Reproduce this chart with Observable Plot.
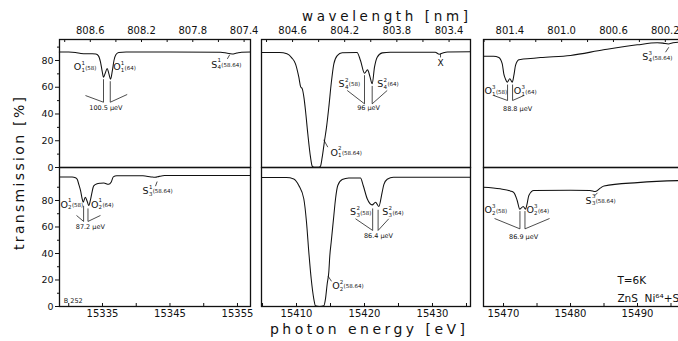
<!DOCTYPE html>
<html><head><meta charset="utf-8">
<script src="https://cdn.jsdelivr.net/npm/d3@7"></script>
<script src="https://cdn.jsdelivr.net/npm/@observablehq/plot@0.6"></script>
<style>
html,body{margin:0;padding:0;background:#fff;overflow:hidden;}
#chart{position:relative;width:678px;height:341px;overflow:hidden;font-family:"DejaVu Sans",sans-serif;color:#111;}
#chart svg{position:absolute;max-width:none;}
</style></head><body><div id="chart"></div>
<script>
// photon energy in units of 0.1 meV (label "15335" = 1.5335 eV); E * wavelength(nm) = HC
const HC = 12398420;

// ---- tick labels ----
const leftEnergyTicks = [15335, 15345, 15355];
const midEnergyTicks = [15410, 15420, 15430];
const rightEnergyTicks = [15470, 15480, 15490];
const leftWaveTicks = [808.6, 808.2, 807.8, 807.4];
const midWaveTicks = [804.6, 804.2, 803.8, 803.4];
const rightWaveTicks = [801.4, 801.0, 800.6, 800.2];
const transTicks = [0, 20, 40, 60, 80];
const transMinor = [10, 30, 50, 70, 90];

// ---- spectra [energy, transmission %] ----
const topLeft = [[15328.6,86.3],[15330.0,86.3],[15331.0,86.0],[15331.8,85.3],[15332.5,85.0],[15333.5,85.0],[15334.0,84.8],[15334.4,83.5],[15334.7,79],[15334.95,72],[15335.15,67.5],[15335.4,70.5],[15335.7,74],[15335.95,70],[15336.2,66],[15336.45,72],[15336.7,80],[15337.0,84.5],[15337.4,86],[15338.5,86.3],[15345,86.3],[15352.5,86.2],[15353.5,85.4],[15354.2,84.9],[15354.9,85.6],[15355.6,86.2],[15356.93,86.3]];
const bottomLeft = [[15328.63,97.8],[15330.5,97.8],[15331.0,97.2],[15331.25,96],[15331.5,92],[15331.75,87.5],[15332.0,81],[15332.15,78.7],[15332.45,82.5],[15332.75,79],[15332.97,76.2],[15333.2,80],[15333.4,85],[15333.7,91],[15334.2,92.6],[15334.7,93],[15335.2,93.2],[15335.9,92.2],[15336.3,94],[15336.6,97.8],[15337.1,98.6],[15341.0,98.6],[15342.2,97.8],[15342.8,97.5],[15343.4,98.2],[15344.2,98.8],[15356.93,98.8]];
const topMid = [[15404.85,86],[15407.5,86],[15408.6,85.0],[15409.3,82],[15409.85,77.5],[15410.34,67.5],[15410.6,60.5],[15410.85,58.8],[15411.1,52],[15411.32,42.6],[15411.66,25.2],[15412.06,7.7],[15412.31,1],[15412.6,0.2],[15413.3,0.2],[15413.53,1.0],[15413.78,7.7],[15414.12,20],[15414.41,30],[15414.75,45],[15415.1,62.6],[15415.49,77.5],[15415.99,83.7],[15416.72,85.8],[15418.9,86],[15419.41,80],[15420.0,70.5],[15420.45,73],[15420.8,68],[15421.13,62.6],[15421.47,75],[15421.87,82.5],[15422.6,85.7],[15423.8,86.2],[15430.4,86.2],[15431.0,84.7],[15431.5,85.6],[15432.2,86.4],[15435.59,86.5]];
const bottomMid = [[15404.85,97.3],[15408.5,97.3],[15409.6,96.3],[15410.34,91.3],[15411.07,81.3],[15411.47,63.6],[15411.81,41],[15412.16,20.9],[15412.54,5.8],[15412.79,0.5],[15413.4,0],[15414.01,0.5],[15414.26,5.8],[15414.51,17],[15414.75,26],[15414.9,38.5],[15415.1,48.5],[15415.49,68.7],[15415.74,81.3],[15416.07,91.3],[15416.72,95.8],[15417.69,97],[15419.41,97],[15419.81,91.3],[15420.4,81.3],[15421.13,76.7],[15421.62,78.7],[15422.1,75.5],[15422.6,86.3],[15422.84,92],[15423.34,96],[15424.26,97.5],[15435.59,97.5]];
const topRight = [[15467.0,83.2],[15468.5,83.2],[15469.3,82.3],[15469.81,77.5],[15470.04,70],[15470.3,66],[15470.55,63.8],[15470.94,66.3],[15471.3,63.8],[15471.55,69],[15471.79,76.3],[15472.28,80.5],[15472.54,80.8],[15474.03,81.5],[15475.52,82.2],[15480.0,83.8],[15484.93,88],[15489.96,91.7],[15492.94,93.2],[15493.8,93.0],[15494.6,92.4],[15495.3,93.2],[15496.1,93.7],[15498.2,94.0]];
const bottomRight = [[15467.0,90],[15469.5,88.8],[15471.0,87.2],[15471.54,86],[15472.04,80],[15472.43,73.5],[15472.94,75.5],[15473.28,73.5],[15473.5,77],[15473.78,83.8],[15474.52,87.5],[15480.0,87.8],[15482.9,87.6],[15483.7,86.8],[15484.5,89.5],[15485.0,91],[15490.0,93.5],[15496.1,95],[15498.2,95.2]];

// ---- line assignments (letter, subscript, superscript, isotope) at [energy, transmission] ----
const labelsTL = [
  {E:15330.75, T:75, base:"O", sub:"1", sup:"1", iso:"(58)"},
  {E:15336.59, T:75, base:"O", sub:"1", sup:"1", iso:"(64)"},
  {E:15351.10, T:77, base:"S", sub:"4", sup:"1", iso:"(58.64)"}];
const labelsBL = [
  {E:15328.78, T:77, base:"O", sub:"2", sup:"1", iso:"(58)"},
  {E:15333.30, T:77, base:"O", sub:"2", sup:"1", iso:"(64)"},
  {E:15340.93, T:87.5, base:"S", sub:"3", sup:"1", iso:"(58.64)"}];
const labelsTM = [
  {E:15415.0, T:11.2, base:"O", sub:"1", sup:"2", iso:"(58.64)"},
  {E:15416.18, T:62.6, base:"S", sub:"4", sup:"2", iso:"(58)"},
  {E:15421.87, T:62.6, base:"S", sub:"4", sup:"2", iso:"(64)"}];
const labelsBM = [
  {E:15415.25, T:15.8, base:"O", sub:"2", sup:"2", iso:"(58.64)"},
  {E:15417.87, T:71.2, base:"S", sub:"3", sup:"2", iso:"(58)"},
  {E:15422.60, T:71.2, base:"S", sub:"3", sup:"2", iso:"(64)"}];
const labelsTR = [
  {E:15467.16, T:57, base:"O", sub:"1", sup:"3", iso:"(58)"},
  {E:15471.54, T:57, base:"O", sub:"1", sup:"3", iso:"(64)"},
  {E:15490.70, T:82.5, base:"S", sub:"4", sup:"3", iso:"(58.64)"}];
const labelsBR = [
  {E:15467.16, T:72.5, base:"O", sub:"2", sup:"3", iso:"(58)"},
  {E:15473.43, T:72.5, base:"O", sub:"2", sup:"3", iso:"(64)"},
  {E:15482.24, T:80, base:"S", sub:"3", sup:"3", iso:"(58.64)"}];

// ---- leader lines [E1, T1, E2, T2] ----
const segTL = [[15335.15,66,15335.15,48.8],[15336.15,64.5,15336.15,48.8],[15332.48,53.8,15335.15,48.8],[15338.66,54.6,15336.15,48.8],[15353.5,81.2,15353.85,84.3]];
const segBL = [[15332.2,76,15332.2,64.2],[15332.85,74,15332.85,64.2],[15331.15,68.7,15332.2,64.2],[15334.7,68.7,15332.85,64.2],[15342.85,90.8,15343.1,94.3]];
const segTM = [[15414.01,20.7,15414.6,15.2],[15420.0,69,15420.0,47.6],[15421.13,61,15421.13,47.6],[15417.46,57.6,15420.0,47.6],[15423.34,57.6,15421.13,47.6],[15431.18,85,15431.18,82.3]];
const segBM = [[15414.63,23,15415.15,19],[15421.2,74,15421.2,57.4],[15422.0,73,15422.0,57.4],[15418.68,66.2,15421.2,57.4],[15423.57,66.2,15422.0,57.4]];
const segTR = [[15470.6,62,15470.6,50.1],[15471.35,62,15471.35,50.1],[15468.55,53.8,15470.6,50.1],[15473.03,53.8,15471.35,50.1],[15494.18,86.2,15494.67,89.9]];
const segBR = [[15472.45,72,15472.45,58.6],[15473.2,72,15473.2,58.6],[15468.66,66.4,15472.45,58.6],[15476.87,66.4,15473.2,58.6],[15483.58,83.5,15484.03,85.8]];

// ---- notes [energy, transmission, text] ----
const notesTL = [[15335.5,44.9,"100.5 \u03BCeV"]];
const notesBL = [[15333.2,59.8,"87.2 \u03BCeV"]];
const notesTM = [[15420.6,44.6,"96 \u03BCeV"],[15431.18,78.3,"X"]];
const notesBM = [[15422.06,53.6,"86.4 \u03BCeV"]];
const notesTR = [[15472.1,44.1,"88.8 \u03BCeV"]];
const notesBR = [[15473.0,52.8,"86.9 \u03BCeV"]];
const sampleNotes = [[15329.27,4.5,"B 252"]];
const conditionNotes = [[15487.0,19.6,"T=6K"],[15487.0,5.8,"ZnS  Ni\u2076\u2074+S"]];

// ---------------- layout ----------------
const ink = "#111";
const FONT = "DejaVu Sans, sans-serif";
const cols = [
  {x0:59, x1:250, domain:[15328.63,15356.93], eTicks:leftEnergyTicks, wTicks:leftWaveTicks},
  {x0:261, x1:470, domain:[15404.85,15435.59], eTicks:midEnergyTicks, wTicks:midWaveTicks},
  {x0:483, x1:692, domain:[15467.01,15498.21], eTicks:rightEnergyTicks, wTicks:rightWaveTicks}];
const rows = [{y0:39, y1:167, domain:[0,95.7]}, {y0:167, y1:306, domain:[0,104.9]}];

const baseWidth = {O:7.0, S:5.8};
function labelMarks(labels) {
  const out = [];
  for (const letter of ["O","S"]) {
    const d = labels.filter(l => l.base === letter);
    if (!d.length) continue;
    const w = baseWidth[letter];
    const c = {x:"E", y:"T", textAnchor:"start", fill:ink, fontFamily:FONT};
    out.push(
      Plot.text(d, {...c, text:"base", fontSize:9.5}),
      Plot.text(d, {...c, text:"sup", fontSize:5.5, dx:w+0.6, dy:-3.8}),
      Plot.text(d, {...c, text:"sub", fontSize:5.5, dx:w+0.6, dy:3.2}),
      Plot.text(d, {...c, text:"iso", fontSize:5.5, dx:w+4.4, dy:0.8}));
  }
  return out;
}

const root = document.getElementById("chart");

function panel(ci, ri, data, labels, segs, notes, extra = []) {
  const c = cols[ci], r = rows[ri];
  const yAxis = ci === 0;
  const ml = yAxis ? 42 : 2, mr = 2, mt = ri === 0 ? 22 : 2, mb = ri === 1 ? 24 : 2;
  const W = c.x1 - c.x0, H = r.y1 - r.y0;
  const marks = [
    Plot.line(data, {x:d=>d[0], y:d=>d[1], stroke:ink, strokeWidth:1.05, curve:"monotone-x"}),
    Plot.link(segs, {x1:d=>d[0], y1:d=>d[1], x2:d=>d[2], y2:d=>d[3], stroke:ink, strokeWidth:0.75}),
    ...labelMarks(labels),
    Plot.text(notes.filter(n => n[2] !== "X"), {x:d=>d[0], y:d=>d[1], text:d=>d[2], fontSize:6.5, fill:ink, fontFamily:FONT}),
    Plot.text(notes.filter(n => n[2] === "X"), {x:d=>d[0], y:d=>d[1], text:d=>d[2], fontSize:9, fill:ink, fontFamily:FONT}),
    ...extra,
    Plot.frame({stroke:ink, strokeWidth:1.3})
  ];
  if (ri === 1) {
    const minor = d3.range(Math.ceil(c.domain[0]/5)*5, c.domain[1], 5);
    marks.push(
      Plot.tickX(minor, {x:d=>d, insetTop:H-3, stroke:ink}),
      Plot.axisX(c.eTicks, {anchor:"bottom", tickSize:0, tickPadding:3, label:null, fontSize:10, fontFamily:FONT, tickFormat:d=>String(d)}));
  } else {
    const wMinor = d3.range(Math.ceil(HC/c.domain[1]*5)/5, HC/c.domain[0], 0.2).map(w => HC/w);
    marks.push(
      Plot.tickX(wMinor, {x:d=>d, insetBottom:H-3, stroke:ink}),
      Plot.axisX(c.wTicks.map(w => HC/w), {anchor:"top", tickSize:0, tickPadding:6, label:null, fontSize:10, fontFamily:FONT, tickFormat:d=>(HC/d).toFixed(1)}));
  }
  if (yAxis) {
    marks.push(
      Plot.axisY(transTicks, {anchor:"left", tickSize:4, tickPadding:2, label:null, fontSize:9.5, fontFamily:FONT}),
      Plot.axisY(transMinor, {anchor:"left", tickSize:2, tickFormat:()=>"", label:null}));
  }
  const svg = Plot.plot({
    width:W+ml+mr, height:H+mt+mb, marginLeft:ml, marginRight:mr, marginTop:mt, marginBottom:mb,
    x:{domain:c.domain, axis:null}, y:{domain:r.domain, axis:null},
    style:{background:"transparent", overflow:"visible", fontFamily:FONT, color:ink},
    marks
  });
  svg.style.left = (c.x0 - ml) + "px";
  svg.style.top = (r.y0 - mt) + "px";
  root.appendChild(svg);
}

panel(0, 0, topLeft, labelsTL, segTL, notesTL);
panel(0, 1, bottomLeft, labelsBL, segBL, notesBL,
  [Plot.text(sampleNotes, {x:d=>d[0], y:d=>d[1], text:d=>d[2], textAnchor:"start", fontSize:6.5, fill:ink, fontFamily:FONT})]);
panel(1, 0, topMid, labelsTM, segTM, notesTM);
panel(1, 1, bottomMid, labelsBM, segBM, notesBM);
panel(2, 0, topRight, labelsTR, segTR, notesTR);
panel(2, 1, bottomRight, labelsBR, segBR, notesBR,
  [Plot.text(conditionNotes, {x:d=>d[0], y:d=>d[1], text:d=>d[2], textAnchor:"start", fontSize:10.5, fill:ink, fontFamily:FONT})]);

// axis titles
const ov = d3.create("svg").attr("width",678).attr("height",341).style("left","0px").style("top","0px")
  .attr("font-family", FONT).attr("fill", ink);
ov.append("text").attr("x",302).attr("y",20.5).attr("font-size",13.5)
  .attr("textLength",166).attr("lengthAdjust","spacing").text("wavelength [nm]");
ov.append("text").attr("x",270).attr("y",334).attr("font-size",14)
  .attr("textLength",195).attr("lengthAdjust","spacing").text("photon energy [eV]");
ov.append("text").attr("transform","translate(24,250) rotate(-90)").attr("font-size",14)
  .attr("textLength",153).attr("lengthAdjust","spacing").text("transmission [%]");
root.appendChild(ov.node());
</script></body></html>
